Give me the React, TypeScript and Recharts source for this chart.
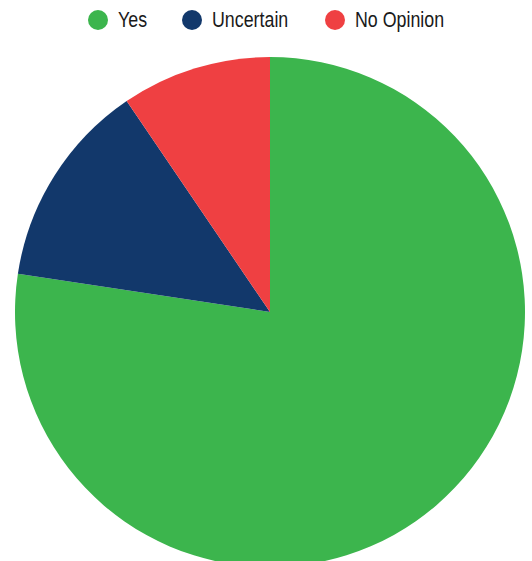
import { PieChart, Pie, Cell } from 'recharts';

const CATEGORIES = ['Yes', 'Uncertain', 'No Opinion'];
const VALUES = [77.4, 13.1, 9.5];
const COLORS = ['#3cb54d', '#12386b', '#ef4042'];

const data = CATEGORIES.map((name, i) => ({ name, value: VALUES[i] }));

// legend item left edges (circle)
const LEGEND_X = [88, 182, 325];

export default function App() {
  return (
    <div style={{ position: 'relative', width: 532, height: 561, overflow: 'hidden' }}>
      <style>{`body{margin:0;overflow:hidden}`}</style>
      <PieChart width={532} height={561} margin={{ top: 0, right: 0, bottom: 0, left: 0 }}>
        <Pie
          data={data}
          dataKey="value"
          nameKey="name"
          cx={270}
          cy={312}
          outerRadius={255}
          startAngle={90}
          endAngle={-270}
          stroke="none"
          isAnimationActive={false}
        >
          {data.map((_, i) => (
            <Cell key={i} fill={COLORS[i]} />
          ))}
        </Pie>
      </PieChart>

      {/* Legend */}
      {CATEGORIES.map((c, i) => (
        <div key={c} style={{ position: 'absolute', top: 9, left: LEGEND_X[i], height: 22 }}>
          <span
            style={{
              position: 'absolute',
              top: 1,
              left: 0,
              width: 20,
              height: 20,
              borderRadius: 10,
              background: COLORS[i],
            }}
          />
          <span
            style={{
              position: 'absolute',
              top: 0,
              left: 30,
              whiteSpace: 'nowrap',
              fontFamily: '"Liberation Sans", Arial, sans-serif',
              fontSize: 22,
              lineHeight: '22px',
              color: '#1a1a1a',
              transform: 'scaleX(0.81)',
              transformOrigin: 'left center',
            }}
          >
            {c}
          </span>
        </div>
      ))}
    </div>
  );
}
